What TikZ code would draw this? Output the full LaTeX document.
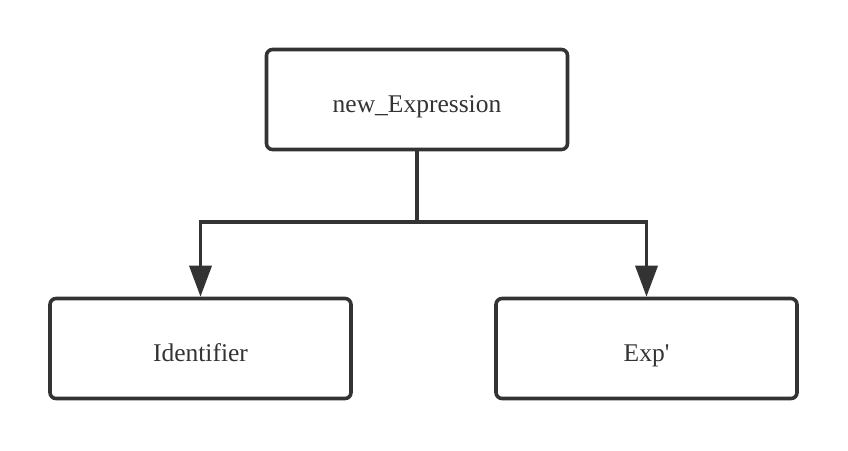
\documentclass[tikz,border=0pt]{standalone}
\usepackage{fontspec}
\setmainfont{Liberation Serif}
\usetikzlibrary{arrows.meta}
\definecolor{ink}{HTML}{333333}
\begin{document}
\begin{tikzpicture}[x=1pt,y=-1pt,
  box/.style={draw=ink,line width=3.6pt,rounded corners=6pt,minimum width=301pt,minimum height=100pt,inner sep=0pt,text height=32pt,text depth=6pt,text=ink,font=\fontsize{25.5}{30}\selectfont},
  conn/.style={draw=ink,line width=3.6pt,-{Triangle[length=31pt,width=22pt]}}]
\useasboundingbox (0,0) rectangle (848,450);
\node[box] (top) at (417,99.5) {new\_Expression};
\node[box] (left) at (200.5,348.5) {Identifier};
\node[box] (right) at (646.5,348.5) {Exp\textquotesingle};
\coordinate (mid) at (417,222);
\draw[draw=ink,line width=3.6pt] (top.south) -- (mid);
\draw[conn] (mid) -| (left.north);
\draw[conn] (mid) -| (right.north);
\end{tikzpicture}
\end{document}
